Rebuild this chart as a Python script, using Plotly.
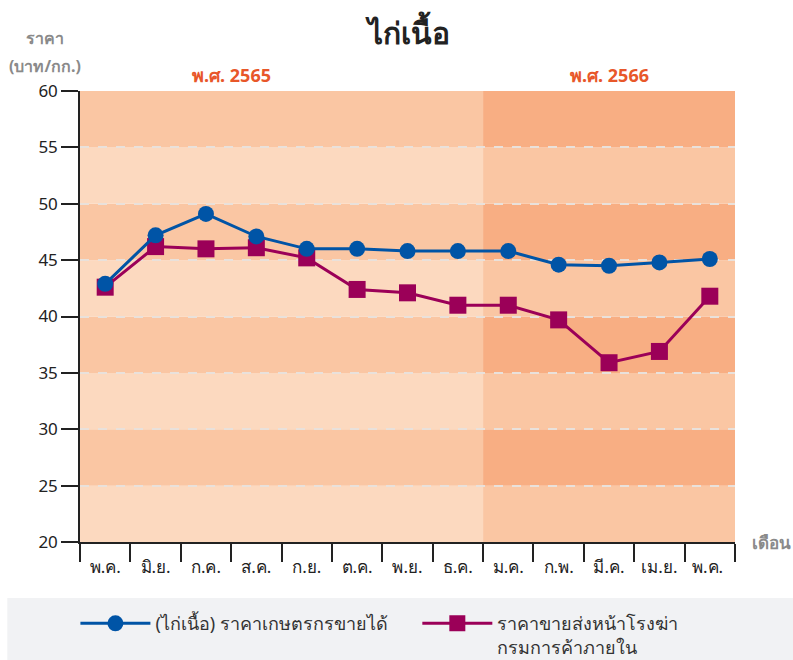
import plotly.graph_objects as go

months = ["พ.ค.", "มิ.ย.", "ก.ค.", "ส.ค.", "ก.ย.", "ต.ค.", "พ.ย.", "ธ.ค.",
          "ม.ค.", "ก.พ.", "มี.ค.", "เม.ย.", "พ.ค. "]
farm_price = [42.9, 47.2, 49.1, 47.1, 46.0, 46.0, 45.8, 45.8, 45.8, 44.6, 44.5, 44.8, 45.1]
wholesale_price = [42.6, 46.2, 46.0, 46.1, 45.2, 42.4, 42.1, 41.0, 41.0, 39.7, 35.9, 36.9, 41.8]
year_labels = ["พ.ศ. 2565", "พ.ศ. 2566"]
year_label_pos = [2.5, 10.0]
year_start_idx = [0, 8]
band_edges = [20, 25, 30, 35, 40, 45, 50, 55, 60]

FONT = "Noto Sans, DejaVu Sans, sans-serif"

fig = go.Figure()

fig.add_trace(go.Scatter(
    x=months, y=wholesale_price, mode="lines+markers",
    name="ราคาขายส่งหน้าโรงฆ่า<br>กรมการค้าภายใน",
    line=dict(color="#9B0058", width=3),
    marker=dict(symbol="square", size=17, color="#9B0058"),
    legend="legend2",
))
fig.add_trace(go.Scatter(
    x=months, y=farm_price, mode="lines+markers",
    name="(ไก่เนื้อ) ราคาเกษตรกรขายได้",
    line=dict(color="#0054A6", width=3),
    marker=dict(symbol="circle", size=16, color="#0054A6"),
    legend="legend",
))

# background bands
n = len(months)
split = year_start_idx[1] - 0.5
shapes = []
for i in range(len(band_edges) - 1):
    lo, hi = band_edges[i], band_edges[i + 1]
    dark = (i % 2 == 1)
    left_col = "#FAC6A3" if dark else "#FCD9BF"
    right_col = "#F8AE83" if dark else "#FAC6A3"
    shapes.append(dict(type="rect", xref="x", yref="y", x0=-0.5, x1=split,
                       y0=lo, y1=hi, fillcolor=left_col, line=dict(width=0), layer="below"))
    shapes.append(dict(type="rect", xref="x", yref="y", x0=split, x1=n - 0.5,
                       y0=lo, y1=hi, fillcolor=right_col, line=dict(width=0), layer="below"))
# legend background band
shapes.append(dict(type="rect", xref="paper", yref="paper", x0=-0.111, x1=1.09,
                   y0=-0.262, y1=-0.124, fillcolor="#F1F2F4", line=dict(width=0), layer="below"))

annotations = [
    dict(text="<b>ไก่เนื้อ</b>", xref="paper", yref="paper", x=0.5, y=1.13,
         xanchor="center", yanchor="middle", showarrow=False,
         font=dict(size=30, color="#222222", family=FONT)),
    dict(text="<b>ราคา</b>", xref="paper", yref="paper", x=-0.053, y=1.117,
         xanchor="center", yanchor="middle", showarrow=False,
         font=dict(size=16, color="#8A8A8A", family=FONT)),
    dict(text="<b>(บาท/กก.)</b>", xref="paper", yref="paper", x=-0.053, y=1.055,
         xanchor="center", yanchor="middle", showarrow=False,
         font=dict(size=16, color="#8A8A8A", family=FONT)),
    dict(text="<b>เดือน</b>", xref="paper", yref="paper", x=1.056, y=0.0,
         xanchor="center", yanchor="middle", showarrow=False,
         font=dict(size=17, color="#8A8A8A", family=FONT)),
]
for lbl, xc in zip(year_labels, year_label_pos):
    annotations.append(dict(text="<b>" + lbl + "</b>", xref="x", yref="paper", x=xc, y=1.035,
                            xanchor="center", yanchor="middle", showarrow=False,
                            font=dict(size=18, color="#E8572A", family=FONT)))

legend_common = dict(orientation="v", yanchor="top", bgcolor="rgba(0,0,0,0)",
                     font=dict(size=18, color="#333333"), valign="top", itemwidth=70)

fig.update_layout(
    width=793, height=660,
    margin=dict(l=80, r=58, t=91, b=118, autoexpand=False),
    paper_bgcolor="white", plot_bgcolor="white",
    font=dict(family=FONT, size=16, color="#222222"),
    shapes=shapes, annotations=annotations,
    showlegend=True,
    legend=dict(x=-0.007, y=-0.14, xanchor="left", **legend_common),
    legend2=dict(x=0.515, y=-0.14, xanchor="left", **legend_common),
    xaxis=dict(type="category", tickson="boundaries", ticks="outside", ticklen=18,
               tickcolor="#222222", tickwidth=1.5, showline=True, linecolor="#222222",
               linewidth=1.5, showgrid=False, range=[-0.5, n - 0.5],
               ticklabelstandoff=9,
               tickfont=dict(size=17, color="#222222")),
    yaxis=dict(range=[20, 60], dtick=5, ticks="outside", ticklen=17, tickcolor="#222222",
               tickwidth=1.5, showline=True, linecolor="#222222", linewidth=1.5,
               showgrid=True, gridcolor="#E9E1DB", griddash="dash", gridwidth=1.5,
               zeroline=False, tickfont=dict(size=17, color="#222222")),
)

fig.write_html("out.html", config={"displayModeBar": False},
               post_script="document.body.style.margin='0';")
